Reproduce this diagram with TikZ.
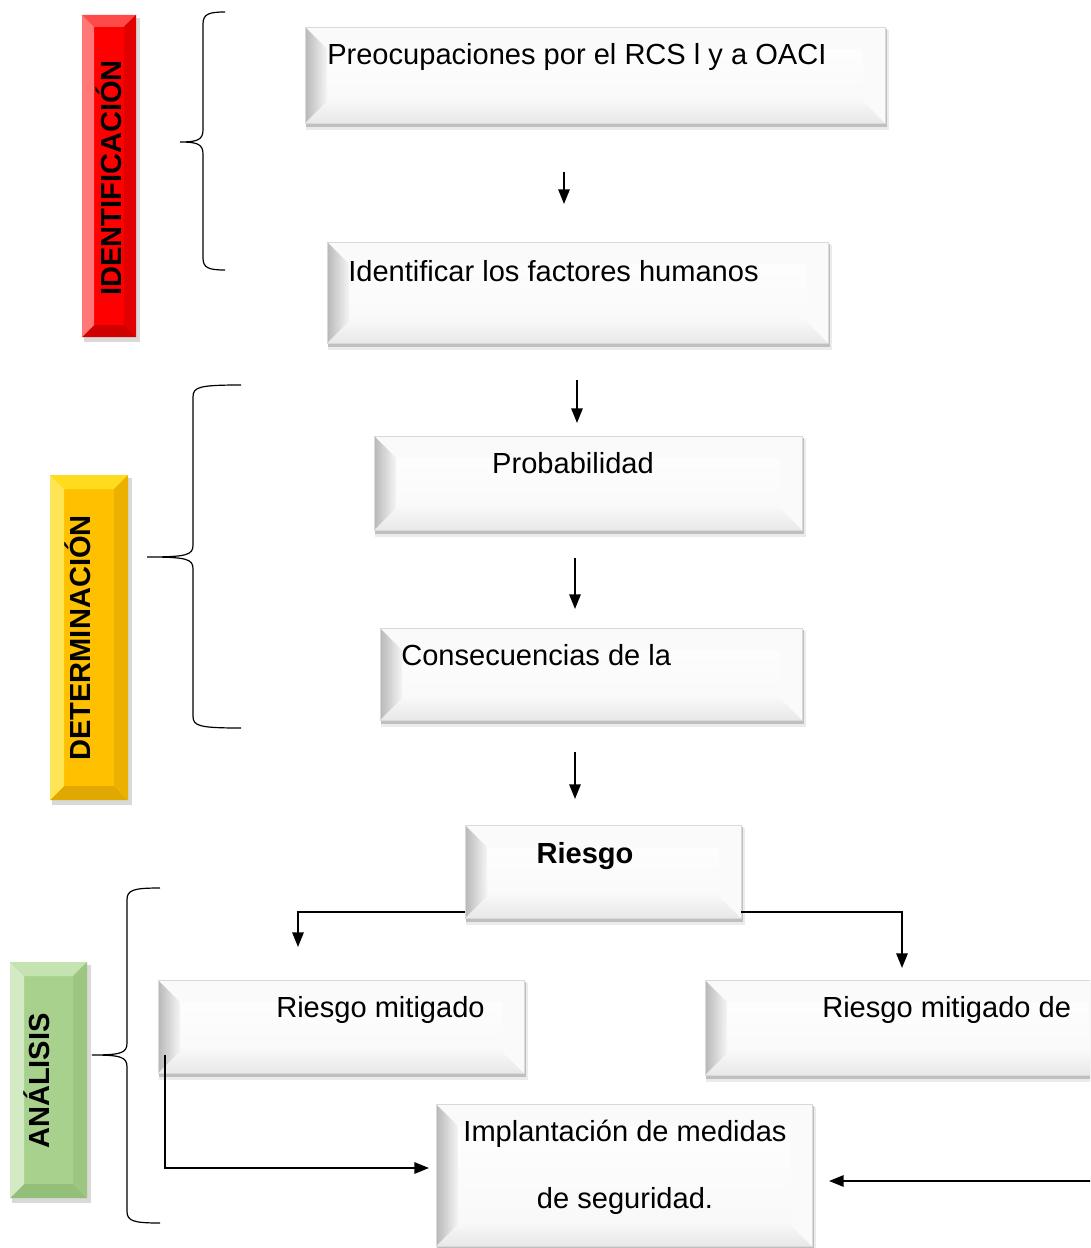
\documentclass[tikz,border=0pt]{standalone}
\usepackage{fontspec}
\setmainfont{Liberation Sans}
\usetikzlibrary{arrows.meta}
\tikzset{
  lbl/.style={font=\fontsize{21.8}{26}\selectfont, inner sep=0pt},
  lblb/.style={font=\fontsize{21.8}{26}\selectfont\bfseries, inner sep=0pt},
  arr/.style={-{Triangle[length=11pt,width=8.5pt]}, line width=1.5pt},
  con/.style={line width=1.5pt},
  bracepath/.style={line width=0.9pt},
}
% white bevel box: x1,y1,x2,y2
\newcommand\wbox[4]{%
  \fill[black!8] ({#1+1},{#2+3}) rectangle ({#3+4},{#4+7});
  \fill[black!25] ({#1+1},{#2+2}) rectangle ({#3+2},{#4+4});
  \shade[top color=white, bottom color=black!3] (#1,#2) rectangle (#3,#4);
  \fill[black!2] (#1,#2) -- (#3,#2) -- ({#3-22},{#2+22}) -- ({#1+22},{#2+22}) -- cycle;
  \shade[top color=black!3, bottom color=black!9] (#1,#4) -- (#3,#4) -- ({#3-22},{#4-22}) -- ({#1+22},{#4-22}) -- cycle;
  \fill[black!2] (#3,#2) -- (#3,#4) -- ({#3-22},{#4-22}) -- ({#3-22},{#2+22}) -- cycle;
  \shade[left color=black!28, right color=black!4] (#1,#2) -- ({#1+22},{#2+22}) -- ({#1+22},{#4-22}) -- (#1,#4) -- cycle;
  \draw[black!15, line width=0.4pt] (#1,#2) rectangle (#3,#4);
}
% coloured bevel box: x1,y1,x2,y2, main, light, dark, d
\newcommand\cbox[8]{%
  \fill[black!15] ({#1+2},{#2+3}) rectangle ({#3+4},{#4+5});
  \fill[#5] (#1,#2) rectangle (#3,#4);
  \fill[#6] (#1,#2) -- (#3,#2) -- ({#3-#8},{#2+#8}) -- ({#1+#8},{#2+#8}) -- cycle;
  \fill[#7] (#1,#4) -- (#3,#4) -- ({#3-#8},{#4-#8}) -- ({#1+#8},{#4-#8}) -- cycle;
  \fill[#7!60!#5] (#3,#2) -- (#3,#4) -- ({#3-#8},{#4-#8}) -- ({#3-#8},{#2+#8}) -- cycle;
  \fill[#6!75!white] (#1,#2) -- ({#1+#8},{#2+#8}) -- ({#1+#8},{#4-#8}) -- (#1,#4) -- cycle;
}
% brace: xend, xv, xtip, ytop, ytip, ybot
\newcommand\mybrace[6]{%
  \draw[bracepath] (#1,#4) .. controls ({#2+6},#4) and (#2,{#4+2}) .. (#2,{#4+12})
    -- (#2,{#5-12}) .. controls (#2,{#5-2}) and ({#2-6},#5) .. (#3,#5)
    .. controls ({#2-6},#5) and (#2,{#5+2}) .. (#2,{#5+12})
    -- (#2,{#6-12}) .. controls (#2,{#6-2}) and ({#2+6},#6) .. (#1,#6);
}
\definecolor{rmain}{HTML}{FF0000}
\definecolor{rlight}{HTML}{FF4A4A}
\definecolor{rdark}{HTML}{D00000}
\definecolor{ymain}{HTML}{FFC000}
\definecolor{ylight}{HTML}{FFDC1E}
\definecolor{ydark}{HTML}{E0A800}
\definecolor{gmain}{HTML}{A9D18E}
\definecolor{glight}{HTML}{C5E3B0}
\definecolor{gdark}{HTML}{94BF78}
\begin{document}
\begin{tikzpicture}[x=0.75pt,y=-0.75pt]
\useasboundingbox (0,0) rectangle (1090,1248);
\clip (0,0) rectangle (1090,1248);
\fill[white] (0,0) rectangle (1090,1248);

% side labels
\cbox{82}{15}{136}{337}{rmain}{rlight}{rdark}{12}
\node[lblb, rotate=90] (tid) at (109,178) {IDENTIFICACIÓN};
\cbox{50}{475}{128}{800}{ymain}{ylight}{ydark}{14}
\node[lblb, rotate=90] (tdet) at (78,638) {DETERMINACIÓN};
\cbox{10}{962}{87}{1198}{gmain}{glight}{gdark}{14}
\node[lblb, rotate=90] (tana) at (37,1081) {ANÁLISIS};

% braces
\mybrace{225}{203}{180}{12}{142}{270}
\mybrace{241}{193}{147}{385}{557}{728}
\mybrace{160}{127}{92}{888}{1055}{1223}

% boxes
\wbox{305}{27}{885}{123}
\node[lbl, anchor=base west] (b1) at (327,65) {Preocupaciones por el RCS l y a OACI};
\wbox{327}{242}{828}{343}
\node[lbl, anchor=base west] (b2) at (348,281) {Identificar los factores humanos};
\wbox{374}{436}{802}{530}
\node[lbl, anchor=base] (b3) at (573,473) {Probabilidad};
\wbox{380}{628}{802}{720}
\node[lbl, anchor=base west] (b4) at (401,665) {Consecuencias de la};
\wbox{465}{825}{741}{918}
\node[lblb, anchor=base] (b5) at (585,863) {Riesgo};
\wbox{158}{980}{524}{1073}
\node[lbl, anchor=base west] (b6) at (276,1017) {Riesgo mitigado};
\wbox{705}{980}{1110}{1075}
\node[lbl, anchor=base west] (b7) at (822,1017) {Riesgo mitigado de};
\wbox{436}{1104}{812}{1246}
\node[lbl, anchor=base] (b8a) at (625,1141) {Implantación de medidas};
\node[lbl, anchor=base] (b8b) at (625,1208) {de seguridad.};

% connector points
\coordinate (c1a) at (564,172); \coordinate (c1b) at (564,204);
\coordinate (c2a) at (577,380); \coordinate (c2b) at (577,423);
\coordinate (c3a) at (575,558); \coordinate (c3b) at (575,609);
\coordinate (c4a) at (575,752); \coordinate (c4b) at (575,799);
\coordinate (c5a) at (465,912); \coordinate (c5b) at (298,912); \coordinate (c5c) at (298,947);
\coordinate (c6a) at (741,912); \coordinate (c6b) at (902,912); \coordinate (c6c) at (902,968);
\coordinate (c7a) at (165,1055); \coordinate (c7b) at (165,1168); \coordinate (c7c) at (429,1168);
\coordinate (c8a) at (1092,1181); \coordinate (c8b) at (829,1181);

\draw[arr] (c1a) -- (c1b);
\draw[arr] (c2a) -- (c2b);
\draw[arr] (c3a) -- (c3b);
\draw[arr] (c4a) -- (c4b);
\draw[arr] (c5a) -- (c5b) -- (c5c);
\draw[arr] (c6a) -- (c6b) -- (c6c);
\draw[arr] (c7a) -- (c7b) -- (c7c);
\draw[arr] (c8a) -- (c8b);
\end{tikzpicture}
\end{document}
